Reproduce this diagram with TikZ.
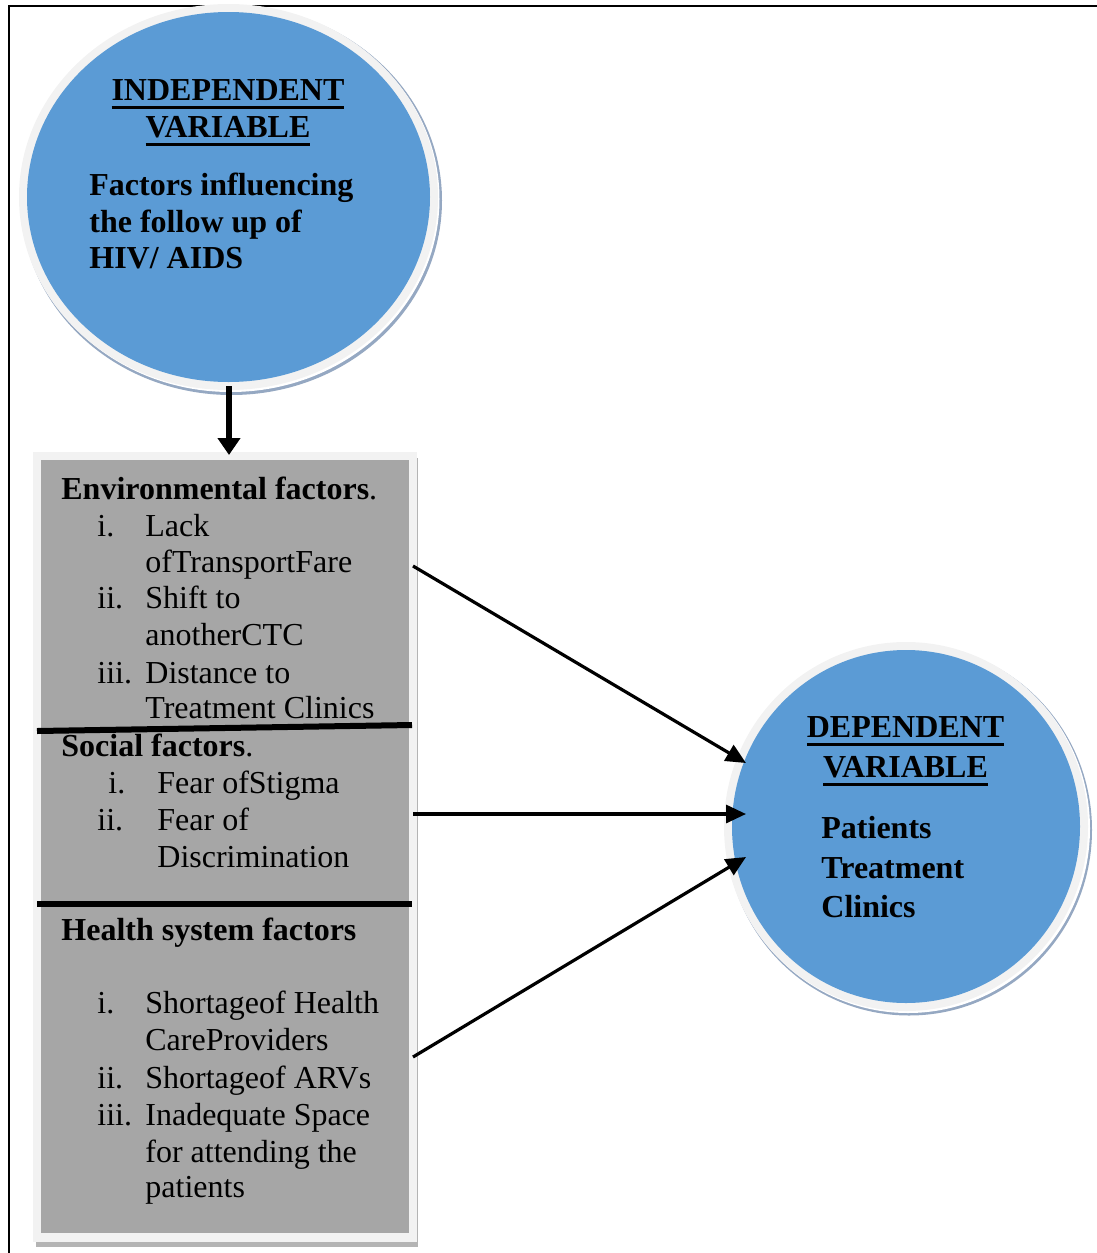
\documentclass[tikz,border=0pt]{standalone}
\usepackage{fontspec}
\setmainfont{Liberation Serif}
\usetikzlibrary{shapes.geometric,arrows.meta}
\newcommand\myul[1]{\setbox0\hbox{#1}\rlap{\rule[-4.25pt]{\wd0}{1.5pt}}\box0}
\definecolor{cblue}{HTML}{5B9BD5}
\definecolor{clight}{HTML}{F2F2F2}
\definecolor{cshadow}{HTML}{95A8C2}
\definecolor{cgray}{HTML}{A6A6A6}
\definecolor{cboxshadow}{HTML}{B4B4B4}
\begin{document}
\begin{tikzpicture}[x=0.5pt,y=-0.5pt,
  txt/.style={font=\fontsize{16}{18.5}\selectfont, inner sep=0pt, anchor=base west},
  btxt/.style={txt, font=\fontsize{16}{18.5}\selectfont\bfseries},
  hdr/.style={btxt, anchor=base},
  blob/.style={ellipse, inner sep=0pt, draw=none},
  plate/.style={rectangle, inner sep=0pt, draw=none},
  arr/.style={line width=1.6pt, -{Triangle[length=10pt,width=9pt]}},
  darr/.style={line width=2.8pt, -{Triangle[length=8.5pt,width=11pt]}},
  divider/.style={line width=3pt}
]
\useasboundingbox (0,0) rectangle (1097,1253);
% frame
\draw[line width=1pt] (9,1253) -- (9,6) -- (1097,6);

% top circle
\node[blob, fill=cshadow, minimum width=210.5pt, minimum height=194.5pt] (ivshadow) at (231.5,200.5) {};
\node[blob, fill=white, minimum width=209pt, minimum height=193pt] (ivgap) at (230.5,199) {};
\node[blob, fill=clight, minimum width=209.5pt, minimum height=193pt] (ivring) at (228.5,197) {};
\node[blob, fill=cblue, minimum width=201.5pt, minimum height=185pt] (iv) at (228.5,197) {};

% right circle
\node[blob, fill=cshadow, minimum width=183pt, minimum height=185.5pt] (dvshadow) at (909,830) {};
\node[blob, fill=white, minimum width=182pt, minimum height=184.5pt] (dvgap) at (908,828.5) {};
\node[blob, fill=clight, minimum width=182pt, minimum height=184.5pt] (dvring) at (906,826.5) {};
\node[blob, fill=cblue, minimum width=174pt, minimum height=176.5pt] (dv) at (906,826.5) {};

% box
\node[plate, fill=cboxshadow, minimum width=191pt, minimum height=394.5pt] (boxshadow) at (227,852.5) {};
\node[plate, fill=clight, minimum width=192pt, minimum height=395pt] (boxlight) at (225,847) {};
\node[plate, fill=cgray, minimum width=184pt, minimum height=386.5pt] (box) at (225,846.5) {};

% dividers
\draw[divider] (37,731) -- (412,725);
\draw[divider] (37,904) -- (412,904);

% top circle text
\node[hdr] (ivh1) at (228,100) {\myul{INDEPENDENT}};
\node[hdr] (ivh2) at (228,137) {\myul{VARIABLE}};
\node[btxt] (ivt1) at (89,195) {Factors influencing};
\node[btxt] (ivt2) at (89,232) {the follow up of};
\node[btxt] (ivt3) at (89,268) {HIV/ AIDS};

% right circle text
\node[hdr] (dvh1) at (905.5,737) {\myul{DEPENDENT}};
\node[hdr] (dvh2) at (905.5,777) {\myul{VARIABLE}};
\node[btxt] (dvt1) at (821,838) {Patients};
\node[btxt] (dvt2) at (821,878) {Treatment};
\node[btxt] (dvt3) at (821,917) {Clinics};

% box text
\node[txt] (e0) at (61,499) {\textbf{Environmental factors}.};
\node[txt] (e1n) at (97,536) {i.};
\node[txt] (e1a) at (145,536) {Lack};
\node[txt] (e1b) at (145,572) {ofTransportFare};
\node[txt] (e2n) at (97,608) {ii.};
\node[txt] (e2a) at (145,608) {Shift to};
\node[txt] (e2b) at (145,645) {anotherCTC};
\node[txt] (e3n) at (97,683) {iii.};
\node[txt] (e3a) at (145,683) {Distance to};
\node[txt] (e3b) at (145,718) {Treatment Clinics};

\node[txt] (s0) at (61,756) {\textbf{Social factors}.};
\node[txt] (s1n) at (108,793) {i.};
\node[txt] (s1a) at (157,793) {Fear ofStigma};
\node[txt] (s2n) at (97,830) {ii.};
\node[txt] (s2a) at (157,830) {Fear of};
\node[txt] (s2b) at (157,867) {Discrimination};

\node[btxt] (h0) at (61,940) {Health system factors};
\node[txt] (h1n) at (97,1013) {i.};
\node[txt] (h1a) at (145,1013) {Shortageof Health};
\node[txt] (h1b) at (145,1050) {CareProviders};
\node[txt] (h2n) at (97,1088) {ii.};
\node[txt] (h2a) at (145,1088) {Shortageof ARVs};
\node[txt] (h3n) at (97,1125) {iii.};
\node[txt] (h3a) at (145,1125) {Inadequate Space};
\node[txt] (h3b) at (145,1162) {for attending the};
\node[txt] (h3c) at (145,1197) {patients};

% connectors
\coordinate (d1) at (229,386);
\coordinate (d2) at (229,455);
\draw[darr] (d1) -- (d2);

\coordinate (a1) at (413,566);
\coordinate (b1) at (746,763);
\coordinate (a2) at (413,814);
\coordinate (b2) at (746,814);
\coordinate (a3) at (413,1057);
\coordinate (b3) at (746,857);
\draw[arr] (a1) -- (b1);
\draw[arr] (a2) -- (b2);
\draw[arr] (a3) -- (b3);
\end{tikzpicture}
\end{document}
